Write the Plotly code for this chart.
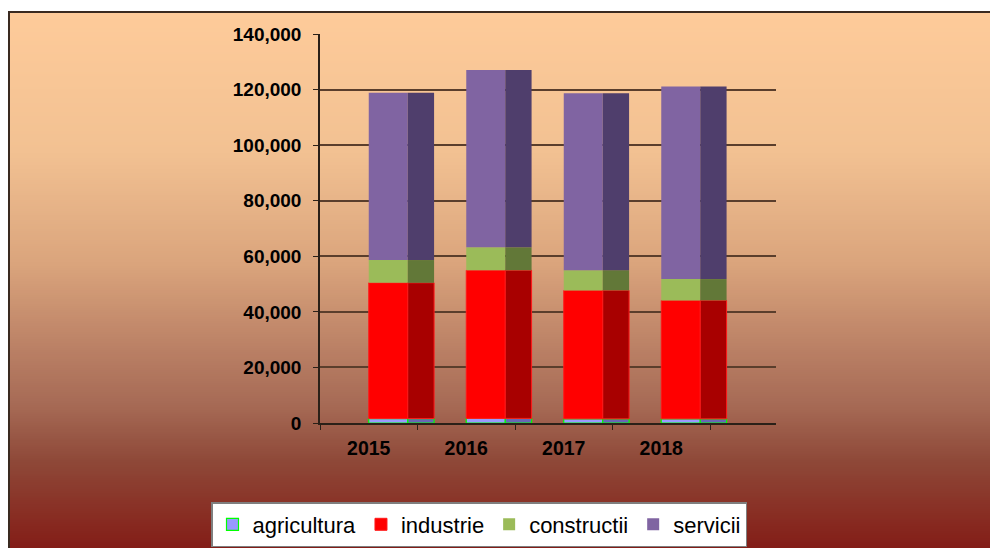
import base64
import struct
import zlib

import numpy as np
import plotly.graph_objects as go

# ---------------- data ----------------
years = ["2015", "2016", "2017", "2018"]
agricultura = [1600, 1650, 1500, 1500]
industrie = [48850, 53300, 46200, 42600]
constructii = [8200, 8300, 7300, 7700]
servicii = [60250, 63750, 63700, 69300]
y_ticks = [0, 20000, 40000, 60000, 80000, 100000, 120000, 140000]

series_names = ["agricultura", "industrie", "constructii", "servicii"]
series_values = [agricultura, industrie, constructii, servicii]

# ---------------- styles ----------------
front_colors = ["#9999FF", "#FF0000", "#9BBB59", "#8064A2"]
side_colors = ["#6767B5", "#A80000", "#627838", "#4F3E6C"]
line_colors = ["#00FF00", "#FF1A1A", "#9BBB59", "#8064A2"]
line_widths = [1.2, 1, 0, 0]

FONT = "Arial, Liberation Sans, sans-serif"

W, H = 998, 548
L, R, T, B = 312, 230, 26, 133  # plot area px (figure coords)
plot_w = W - L - R
plot_h = H - T - B


def px_to_paper_x(px):
    return (px - L) / plot_w


def px_to_paper_y(py):
    return (H - B - py) / plot_h


# ---------------- gradient background image ----------------
def make_gradient_png(stops, height=256):
    rows = []
    for i in range(height):
        t = i / (height - 1)
        for k in range(len(stops) - 1):
            t0, c0 = stops[k]
            t1, c1 = stops[k + 1]
            if t0 <= t <= t1:
                f = 0 if t1 == t0 else (t - t0) / (t1 - t0)
                rgb = [int(round(c0[j] + (c1[j] - c0[j]) * f)) for j in range(3)]
                break
        rows.append(rgb)
    raw = b"".join(b"\x00" + bytes(r) for r in rows)

    def chunk(tag, data):
        c = struct.pack(">I", len(data)) + tag + data
        return c + struct.pack(">I", zlib.crc32(tag + data) & 0xFFFFFFFF)

    png = b"\x89PNG\r\n\x1a\n"
    png += chunk(b"IHDR", struct.pack(">IIBBBBB", 1, height, 8, 2, 0, 0, 0))
    png += chunk(b"IDAT", zlib.compress(raw, 9))
    png += chunk(b"IEND", b"")
    return "data:image/png;base64," + base64.b64encode(png).decode()


grad_stops = [
    (0.00, (254, 203, 154)),
    (0.25, (242, 193, 146)),
    (0.45, (218, 164, 124)),
    (0.60, (186, 128, 101)),
    (0.70, (166, 106, 85)),
    (0.80, (142, 72, 56)),
    (0.90, (136, 44, 34)),
    (1.00, (126, 16, 14)),
]
bg_src = make_gradient_png(grad_stops)

# ---------------- traces ----------------
fig = go.Figure()
base = np.zeros(len(years))
for name, vals, fc, sc, lc, lw in zip(series_names, series_values, front_colors,
                                      side_colors, line_colors, line_widths):
    vals = np.array(vals, dtype=float)
    # front face
    fig.add_trace(go.Bar(
        x=years, y=vals, base=base, name=name,
        offset=0.0, width=0.4,
        marker=dict(color=fc, line=dict(color=lc, width=lw)),
        showlegend=True, legendgroup=name,
    ))
    # side (depth) face
    fig.add_trace(go.Bar(
        x=years, y=vals, base=base, name=name,
        offset=0.4, width=0.27,
        marker=dict(color=sc, line=dict(color=lc, width=lw)),
        showlegend=False, legendgroup=name,
    ))
    base = base + vals

fig.update_layout(
    width=W, height=H,
    margin=dict(l=L, r=R, t=T, b=B, pad=0, autoexpand=False),
    barmode="overlay",
    paper_bgcolor="white",
    plot_bgcolor="rgba(0,0,0,0)",
    font=dict(family=FONT, color="black"),
    xaxis=dict(
        type="category",
        range=[-0.5, (776 - 320) / 97.5 - 0.5],
        showgrid=False,
        showline=True, linecolor="#2a2018", linewidth=1.5,
        ticks="outside", tickson="boundaries", ticklen=5,
        tickcolor="#2a2018", tickwidth=1.2,
        tickfont=dict(family=FONT, size=19.5, color="black", weight="bold"),
        ticklabelstandoff=7,
        zeroline=False,
    ),
    yaxis=dict(
        range=[0, 140000],
        tickvals=y_ticks,
        tickformat=",d",
        showgrid=True, gridcolor="#5a3e2c", gridwidth=1.5,
        showline=True, linecolor="#2a2018", linewidth=1.5,
        ticks="outside", ticklen=5, tickcolor="#2a2018", tickwidth=1.2,
        tickfont=dict(family=FONT, size=19, color="black", weight="bold"),
        ticklabelstandoff=8,
        zeroline=False,
    ),
    legend=dict(
        orientation="h",
        x=px_to_paper_x(203), xanchor="left",
        y=px_to_paper_y(494), yanchor="top",
        bgcolor="white", bordercolor="#7f7f7f", borderwidth=1.5,
        font=dict(family=FONT, size=22, color="black"),
        traceorder="normal",
    ),
    images=[dict(
        source=bg_src, xref="paper", yref="paper",
        x=px_to_paper_x(0), y=px_to_paper_y(3),
        sizex=(W + 20) / plot_w, sizey=(H - 3 + 20) / plot_h,
        sizing="stretch", layer="below", xanchor="left", yanchor="top",
    )],
    shapes=[
        dict(type="line", xref="paper", yref="paper",
             x0=px_to_paper_x(1), x1=px_to_paper_x(1),
             y0=px_to_paper_y(3), y1=px_to_paper_y(H + 20),
             line=dict(color="#3a2a20", width=2), layer="above"),
        dict(type="line", xref="paper", yref="paper",
             x0=px_to_paper_x(0), x1=px_to_paper_x(W + 20),
             y0=px_to_paper_y(4), y1=px_to_paper_y(4),
             line=dict(color="#3a2a20", width=2), layer="above"),
    ],
)

fig.write_html("out.html")
